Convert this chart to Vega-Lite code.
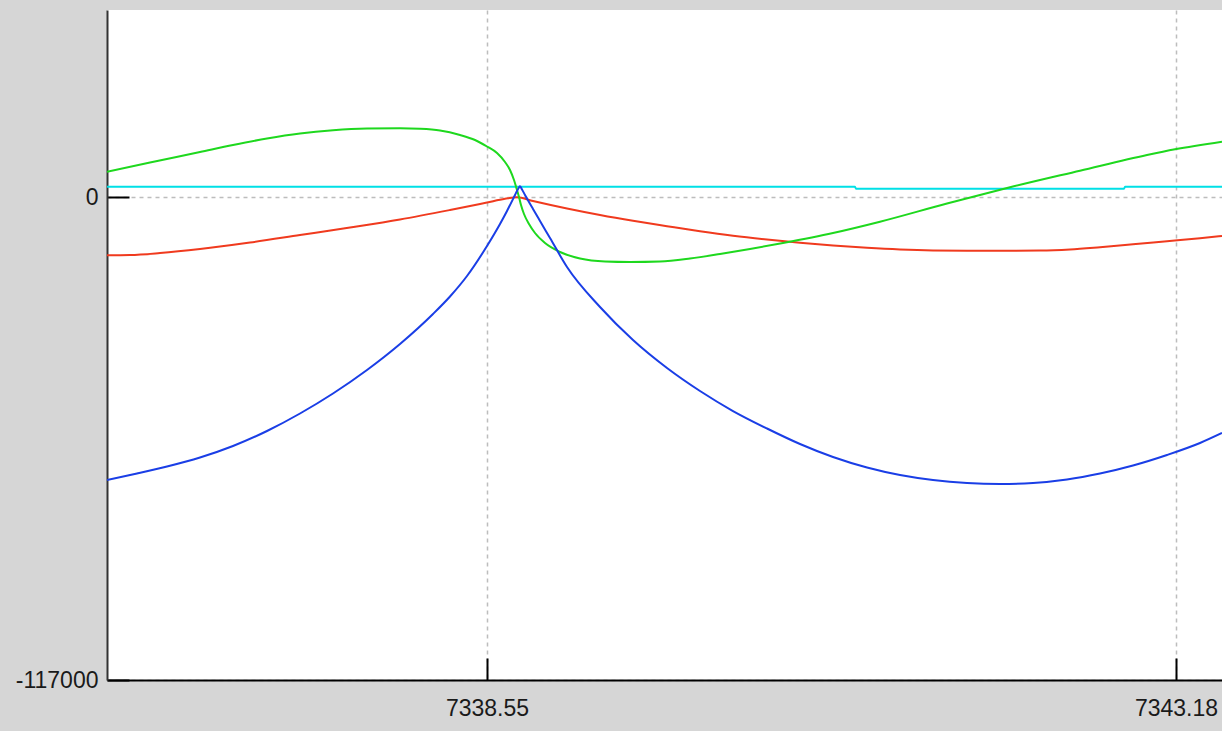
{
  "$schema": "https://vega.github.io/schema/vega-lite/v6.json",
  "width": 1115,
  "height": 670,
  "autosize": {"type": "none"},
  "padding": {"left": 107, "top": 10, "right": 0, "bottom": 51},
  "background": "#d6d6d6",
  "config": {
    "view": {"fill": "#ffffff", "stroke": null},
    "axis": {
      "labelFont": "Liberation Sans",
      "labelFontSize": 23,
      "labelColor": "#1a1a1a",
      "tickColor": "#000000",
      "tickWidth": 2,
      "tickSize": -22,
      "domainWidth": 2,
      "gridColor": "#bdbdbd",
      "gridDash": [4, 4],
      "gridWidth": 1.5,
      "labelOverlap": false,
      "labelFlush": false,
      "title": null
    }
  },
  "data": {
    "values": [
      {"s": "cyan", "x": 7335.9964, "y": 2495},
      {"s": "cyan", "x": 7341.0229, "y": 2495},
      {"s": "cyan", "x": 7341.0296, "y": 2011},
      {"s": "cyan", "x": 7342.8306, "y": 2011},
      {"s": "cyan", "x": 7342.8373, "y": 2495},
      {"s": "cyan", "x": 7343.4891, "y": 2495},

      {"s": "red", "x": 7335.9964, "y": -14122},
      {"s": "red", "x": 7336.1510, "y": -14050},
      {"s": "red", "x": 7336.3526, "y": -13565},
      {"s": "red", "x": 7336.6214, "y": -12596},
      {"s": "red", "x": 7336.9574, "y": -11022},
      {"s": "red", "x": 7337.2934, "y": -9205},
      {"s": "red", "x": 7337.6294, "y": -7388},
      {"s": "red", "x": 7337.9654, "y": -5450},
      {"s": "red", "x": 7338.3014, "y": -3149},
      {"s": "red", "x": 7338.55, "y": -1332},
      {"s": "red", "x": 7338.6710, "y": -436},
      {"s": "red", "x": 7338.7516, "y": -48},
      {"s": "red", "x": 7338.8591, "y": -969},
      {"s": "red", "x": 7339.0876, "y": -2786},
      {"s": "red", "x": 7339.3094, "y": -4360},
      {"s": "red", "x": 7339.5311, "y": -5765},
      {"s": "red", "x": 7339.7596, "y": -7073},
      {"s": "red", "x": 7339.9813, "y": -8309},
      {"s": "red", "x": 7340.2031, "y": -9399},
      {"s": "red", "x": 7340.4316, "y": -10319},
      {"s": "red", "x": 7340.6533, "y": -11094},
      {"s": "red", "x": 7340.8751, "y": -11748},
      {"s": "red", "x": 7341.1036, "y": -12306},
      {"s": "red", "x": 7341.3253, "y": -12717},
      {"s": "red", "x": 7341.5471, "y": -12960},
      {"s": "red", "x": 7341.7756, "y": -13032},
      {"s": "red", "x": 7341.9973, "y": -13032},
      {"s": "red", "x": 7342.2661, "y": -12984},
      {"s": "red", "x": 7342.4677, "y": -12717},
      {"s": "red", "x": 7342.6693, "y": -12160},
      {"s": "red", "x": 7342.8911, "y": -11458},
      {"s": "red", "x": 7343.1195, "y": -10707},
      {"s": "red", "x": 7343.3413, "y": -9980},
      {"s": "red", "x": 7343.4891, "y": -9447},

      {"s": "green", "x": 7335.9964, "y": 6129},
      {"s": "green", "x": 7336.2854, "y": 8357},
      {"s": "green", "x": 7336.6214, "y": 10901},
      {"s": "green", "x": 7336.8432, "y": 12596},
      {"s": "green", "x": 7337.0716, "y": 14171},
      {"s": "green", "x": 7337.2934, "y": 15382},
      {"s": "green", "x": 7337.5151, "y": 16157},
      {"s": "green", "x": 7337.7436, "y": 16569},
      {"s": "green", "x": 7337.9654, "y": 16642},
      {"s": "green", "x": 7338.0998, "y": 16520},
      {"s": "green", "x": 7338.2342, "y": 16109},
      {"s": "green", "x": 7338.3686, "y": 15019},
      {"s": "green", "x": 7338.4694, "y": 13807},
      {"s": "green", "x": 7338.55, "y": 12233},
      {"s": "green", "x": 7338.6172, "y": 10658},
      {"s": "green", "x": 7338.6710, "y": 8478},
      {"s": "green", "x": 7338.7046, "y": 6540},
      {"s": "green", "x": 7338.7314, "y": 4118},
      {"s": "green", "x": 7338.7516, "y": 1696},
      {"s": "green", "x": 7338.7650, "y": 0},
      {"s": "green", "x": 7338.7785, "y": -1938},
      {"s": "green", "x": 7338.7986, "y": -4118},
      {"s": "green", "x": 7338.8322, "y": -6540},
      {"s": "green", "x": 7338.8726, "y": -8720},
      {"s": "green", "x": 7338.9398, "y": -11143},
      {"s": "green", "x": 7339.0406, "y": -13323},
      {"s": "green", "x": 7339.1750, "y": -14898},
      {"s": "green", "x": 7339.3430, "y": -15624},
      {"s": "green", "x": 7339.5110, "y": -15745},
      {"s": "green", "x": 7339.7125, "y": -15624},
      {"s": "green", "x": 7339.9141, "y": -14898},
      {"s": "green", "x": 7340.1157, "y": -13807},
      {"s": "green", "x": 7340.3173, "y": -12596},
      {"s": "green", "x": 7340.5391, "y": -11143},
      {"s": "green", "x": 7340.8751, "y": -8720},
      {"s": "green", "x": 7341.1909, "y": -5983},
      {"s": "green", "x": 7341.6412, "y": -1575},
      {"s": "green", "x": 7342.0645, "y": 2350},
      {"s": "green", "x": 7342.5349, "y": 6371},
      {"s": "green", "x": 7342.9851, "y": 10174},
      {"s": "green", "x": 7343.1733, "y": 11555},
      {"s": "green", "x": 7343.4891, "y": 13396},

      {"s": "blue", "x": 7335.9964, "y": -68553},
      {"s": "blue", "x": 7336.1980, "y": -66978},
      {"s": "blue", "x": 7336.3996, "y": -65283},
      {"s": "blue", "x": 7336.6214, "y": -63102},
      {"s": "blue", "x": 7336.8432, "y": -60317},
      {"s": "blue", "x": 7337.0716, "y": -56683},
      {"s": "blue", "x": 7337.2934, "y": -52444},
      {"s": "blue", "x": 7337.5151, "y": -47599},
      {"s": "blue", "x": 7337.7436, "y": -41907},
      {"s": "blue", "x": 7337.9654, "y": -35609},
      {"s": "blue", "x": 7338.1871, "y": -28342},
      {"s": "blue", "x": 7338.3014, "y": -24102},
      {"s": "blue", "x": 7338.4156, "y": -19137},
      {"s": "blue", "x": 7338.55, "y": -11870},
      {"s": "blue", "x": 7338.6374, "y": -6540},
      {"s": "blue", "x": 7338.6844, "y": -3391},
      {"s": "blue", "x": 7338.7382, "y": 484},
      {"s": "blue", "x": 7338.7516, "y": 1453},
      {"s": "blue", "x": 7338.7650, "y": 2301},
      {"s": "blue", "x": 7338.7718, "y": 2592},
      {"s": "blue", "x": 7338.7852, "y": 1817},
      {"s": "blue", "x": 7338.8054, "y": 484},
      {"s": "blue", "x": 7338.8591, "y": -2907},
      {"s": "blue", "x": 7338.9062, "y": -5814},
      {"s": "blue", "x": 7338.9734, "y": -9932},
      {"s": "blue", "x": 7339.0876, "y": -16957},
      {"s": "blue", "x": 7339.3094, "y": -26646},
      {"s": "blue", "x": 7339.5311, "y": -34640},
      {"s": "blue", "x": 7339.7596, "y": -41422},
      {"s": "blue", "x": 7339.9813, "y": -46994},
      {"s": "blue", "x": 7340.2031, "y": -51839},
      {"s": "blue", "x": 7340.4316, "y": -56078},
      {"s": "blue", "x": 7340.6533, "y": -59832},
      {"s": "blue", "x": 7340.8751, "y": -62981},
      {"s": "blue", "x": 7341.1036, "y": -65525},
      {"s": "blue", "x": 7341.3253, "y": -67342},
      {"s": "blue", "x": 7341.5471, "y": -68553},
      {"s": "blue", "x": 7341.7756, "y": -69280},
      {"s": "blue", "x": 7341.9973, "y": -69522},
      {"s": "blue", "x": 7342.2191, "y": -69280},
      {"s": "blue", "x": 7342.4475, "y": -68432},
      {"s": "blue", "x": 7342.6693, "y": -66978},
      {"s": "blue", "x": 7342.8911, "y": -65040},
      {"s": "blue", "x": 7343.1195, "y": -62497},
      {"s": "blue", "x": 7343.3413, "y": -59590},
      {"s": "blue", "x": 7343.4891, "y": -57168}
    ]
  },
  "mark": {"type": "line", "strokeWidth": 2, "interpolate": "monotone", "clip": true},
  "encoding": {
    "x": {
      "field": "x",
      "type": "quantitative",
      "scale": {"domain": [7335.9964, 7343.4891], "nice": false, "zero": false},
      "axis": {
        "values": [7338.55, 7343.18],
        "labelExpr": "format(datum.value, '.2f')",
        "labelPadding": 39,
        "domainColor": "#000000",
        "grid": true
      }
    },
    "y": {
      "field": "y",
      "type": "quantitative",
      "scale": {"domain": [-117000, 45300], "nice": false, "zero": false},
      "axis": {
        "values": [0, -117000],
        "labelExpr": "'' + datum.value",
        "labelPadding": 31,
        "domainColor": "#333333",
        "grid": true
      }
    },
    "color": {
      "field": "s",
      "type": "nominal",
      "scale": {"domain": ["cyan", "red", "green", "blue"], "range": ["#00e0e6", "#f03a1e", "#1ed81e", "#1a3ee6"]},
      "legend": null
    }
  }
}
